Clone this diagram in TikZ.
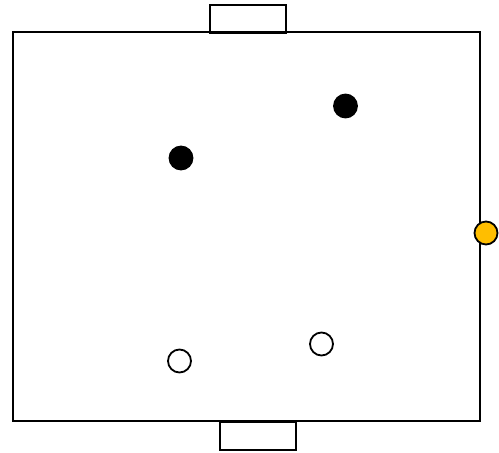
\documentclass[tikz,border=0pt]{standalone}
\usetikzlibrary{shapes.geometric}
\definecolor{ballyellow}{RGB}{255,190,0}
\begin{document}
\begin{tikzpicture}[x=1pt,y=-1pt,
  line/.style={draw=black,line width=2pt},
  player/.style={circle,minimum size=23pt,inner sep=0pt,line width=1.8pt,draw=black}]
\useasboundingbox (0,0) rectangle (499,453);
\node[line,draw,rectangle,minimum width=76pt,minimum height=28pt,inner sep=0pt,fill=white] (goaltop) at (248,19) {};
\node[line,draw,rectangle,minimum width=76pt,minimum height=28pt,inner sep=0pt,fill=white] (goalbot) at (258,436) {};
\draw[line] (13,32) rectangle (480,421);
\node[player,fill=black] (b1) at (345.5,106) {};
\node[player,fill=black] (b2) at (181,158) {};
\node[player,fill=white] (w1) at (179.5,361) {};
\node[player,fill=white] (w2) at (321.5,344) {};
\node[player,fill=ballyellow] (ball) at (486,233) {};
\end{tikzpicture}
\end{document}
